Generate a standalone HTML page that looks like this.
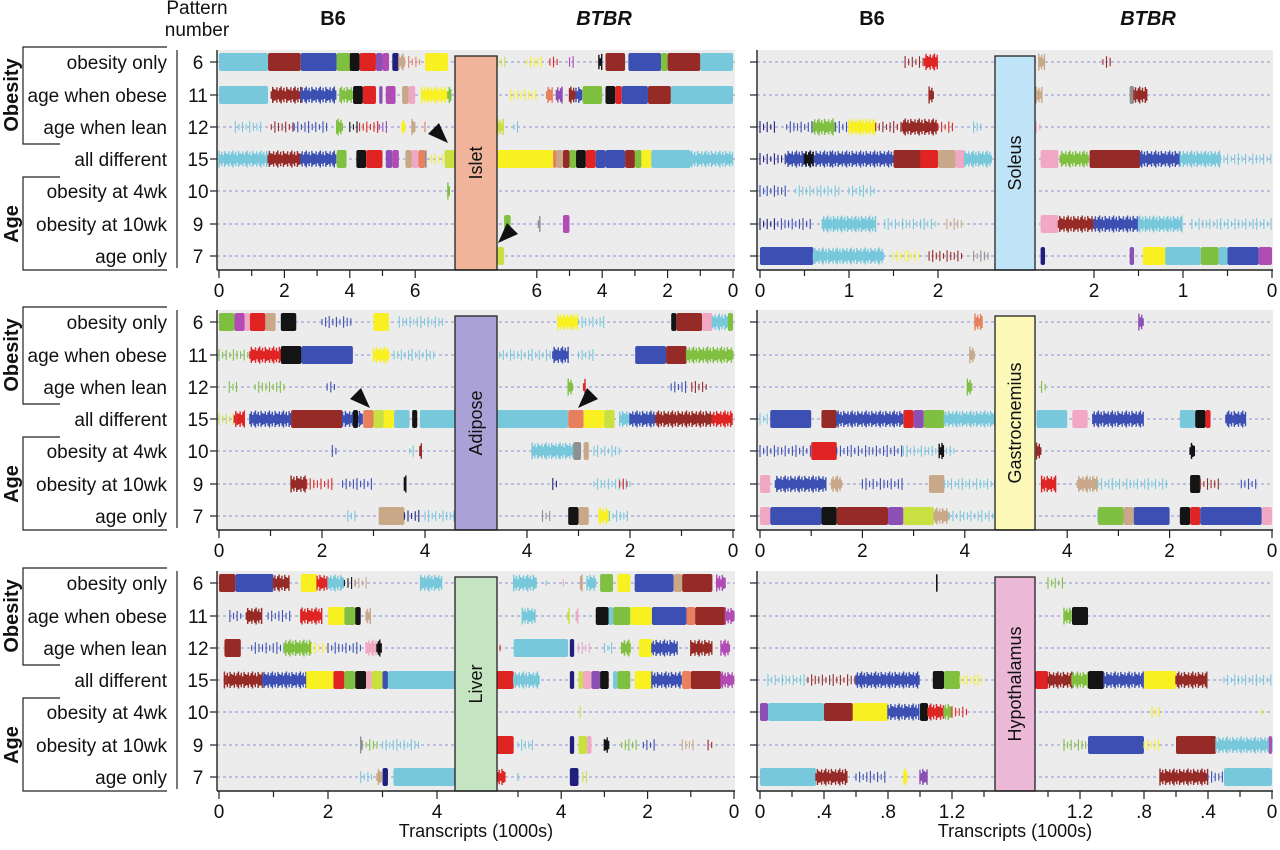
<!DOCTYPE html>
<html><head><meta charset="utf-8"><style>
body{margin:0;background:#fff;width:1280px;height:850px;overflow:hidden}
svg{display:block;font-family:"Liberation Sans",sans-serif}
</style></head><body>
<svg id="fig" width="1280" height="850" viewBox="0 0 1280 850" xmlns="http://www.w3.org/2000/svg"></svg>
<script>
// ---------- DATA (values in 1000s of transcripts) ----------
const rowPatterns = ["6","11","12","15","10","9","7"];
const rowLabels = ["obesity only","age when obese","age when lean","all different","obesity at 4wk","obesity at 10wk","age only"];
const tissues = ["Islet","Soleus","Adipose","Gastrocnemius","Liver","Hypothalamus"];
const tissueColors = ["#f0b49a","#bfe4f8","#aaa2d6","#fbf8b8","#c4e4c2","#ecb8d8"];
const tickLabelsIslet = [0,2,4,6];
const tickLabelsSoleus = [0,1,2];
const tickLabelsAdipose = [0,2,4];
const tickLabelsGastro = [0,2,4];
const tickLabelsLiverB6 = [0,2,4];
const tickLabelsLiverBTBR = [0,2,4];
const tickLabelsHypo = [0,0.4,0.8,1.2];
// segments: "start-end:color:type" ; type d=dense, m=medium, s=sparse
const isletB6 = [
"0-1.5:c:d,1.5-2.5:r:d,2.5-3.6:b:d,3.6-4.1:g:d,4.0-4.3:k:d,4.3-4.8:R:d,4.8-5.0:p:d,5.0-5.2:m:d,5.3-5.5:n:d,5.5-5.7:t:m,5.8-6.2:o:s,6.3-7.0:y:d",
"0-1.5:c:d,1.6-2.5:r:m,2.5-3.6:b:m,3.7-4.1:g:m,4.1-4.4:k:d,4.4-4.8:R:d,4.9-5.0:p:d,5.1-5.4:m:d,5.6-5.8:t:d,5.8-6.0:P:d,6.2-7.0:y:m,7.0-7.1:g:m",
"0.5-1.3:c:s,1.6-2.3:r:s,2.3-3.4:b:s,3.6-3.8:g:m,4.0-4.3:k:s,4.3-4.9:R:s,4.9-5.2:p:s,5.6-5.7:y:m,5.9-6.0:t:m,6.3-6.4:o:s",
"0-1.5:c:m,1.5-2.5:r:m,2.5-3.6:b:m,3.6-3.9:g:d,4.2-4.5:k:d,4.5-5.0:R:d,5.1-5.3:p:d,5.3-5.5:m:d,5.7-5.9:t:d,5.9-6.1:P:d,6.1-6.3:o:d,6.3-6.35:G:d,6.5-6.9:y:s,6.9-7.2:l:d",
"7.0-7.06:g:m","",""];
const isletBTBR = [
"6.9-7.2:l:s,5.8-6.3:y:s,5.3-5.6:R:s,4.8-5.0:m:s,4.0-4.1:k:m,3.3-3.9:r:d,2.2-3.2:b:d,2.0-2.2:g:d,1.0-2.0:r:d,0-1.0:c:d",
"6.0-6.8:y:s,5.5-5.7:o:m,5.2-5.4:p:m,4.8-5.0:r:m,4.6-4.8:b:m,4.0-4.6:g:d,3.6-3.9:k:d,3.4-3.6:R:d,2.6-3.4:b:d,1.9-2.6:r:d,0-1.9:c:d",
"7.0-7.2:l:m,6.5-6.7:c:s","5.5-7.2:y:d,5.4-5.5:o:d,5.2-5.4:t:d,5.0-5.2:r:d,4.8-5.0:g:d,4.5-4.8:k:d,4.2-4.5:R:d,3.9-4.2:b:d,3.3-3.9:b:d,3.0-3.3:r:d,2.8-3.0:g:d,2.5-2.8:y:d,1.3-2.5:c:d,0-1.3:c:m",
"","6.8-7.0:g:d,5.9-5.95:G:m,5.0-5.2:m:d","7.0-7.2:l:d"];
const soleusB6 = [
"1.63-1.85:r:s,1.85-2.0:R:m","1.9-1.95:r:m",
"0-0.2:n:s,0.3-0.6:b:s,0.6-0.85:g:m,0.85-1.0:b:s,1.0-1.3:y:m,1.3-1.6:r:s,1.6-2.0:r:m,2.0-2.2:R:s,2.4-2.5:c:s",
"0-0.3:n:s,0.3-0.8:b:m,0.5-0.6:k:m,0.8-1.5:b:m,1.5-2.0:r:d,1.8-2.0:R:d,2.0-2.2:t:d,2.2-2.3:P:d,2.3-2.6:c:m",
"0-0.3:b:s,0.4-0.9:c:s,1.0-1.3:c:s",
"0-0.2:n:s,0.2-0.6:b:s,0.7-1.3:c:m,1.4-2.0:c:s,2.1-2.3:t:s",
"0-0.6:b:d,0.6-1.4:c:m,1.5-1.8:y:s,1.9-2.3:r:s,2.4-2.6:G:s"];
const soleusBTBR = [
"2.55-2.62:t:m,1.8-1.9:r:s","2.58-2.65:t:m,1.55-1.6:G:d,1.4-1.55:r:m","2.6-2.65:P:s",
"2.4-2.6:P:d,2.05-2.38:g:m,1.48-2.05:r:d,1.03-1.48:b:m,0.58-1.03:c:m,0-0.58:c:s",
"","2.4-2.6:P:d,2.0-2.4:r:m,1.5-2.0:b:m,1.0-1.5:c:m,0-0.9:c:s",
"2.55-2.6:n:d,1.55-1.6:p:d,1.2-1.45:y:d,0.8-1.2:c:d,0.6-0.8:g:d,0.5-0.6:c:d,0.15-0.5:b:d,0-0.15:m:d"];
const adiposeB6 = [
"0-0.3:g:d,0.3-0.5:m:d,0.5-0.6:P:d,0.6-0.9:R:d,0.9-1.1:t:d,1.2-1.5:k:d,2.0-2.6:b:s,3.0-3.3:y:d,3.5-4.4:c:s",
"0-0.6:g:s,0.6-1.2:R:m,1.2-1.6:k:d,1.6-2.6:b:d,3.0-3.3:y:m,3.4-4.2:c:s",
"0.2-0.4:g:s,0.7-1.3:g:s,2.1-2.3:b:s",
"0-0.3:l:s,0.3-0.5:R:m,0.6-1.4:b:m,1.4-2.4:r:d,2.4-2.8:b:m,2.6-2.7:k:d,2.8-3.0:o:d,3.0-3.2:l:d,3.2-3.4:y:d,3.4-3.7:c:d,3.75-3.85:k:d,3.9-4.6:c:d",
"2.2-2.3:b:s,3.7-3.8:c:s,3.9-3.95:r:m",
"1.4-1.7:r:m,1.7-2.2:R:s,2.4-3.0:b:s,3.6-3.65:k:m",
"2.5-2.7:c:s,3.1-3.6:t:d,3.6-3.9:n:s,4.0-4.6:c:s"];
const adiposeBTBR = [
"3.0-3.4:y:m,2.5-3.0:c:s,1.1-1.2:k:d,0.6-1.1:r:d,0.4-0.6:P:d,0-0.4:c:m,0-0.1:g:d",
"3.5-4.6:c:s,3.2-3.5:b:m,2.7-3.0:c:s,1.3-1.9:b:d,0.9-1.3:r:d,0-0.9:g:m",
"3.1-3.2:g:m,2.85-2.9:R:m,0.9-1.2:b:s,0.5-0.8:r:s",
"3.2-4.6:c:d,2.9-3.2:o:d,2.5-2.9:y:d,2.3-2.5:l:d,2.0-2.2:c:m,1.5-2.0:b:m,0.4-1.5:r:m,0-0.4:R:m",
"3.0-3.9:c:m,2.95-3.1:G:d,2.8-2.9:t:d,2.2-2.7:c:s",
"3.4-3.5:n:s,2.0-2.7:c:s,2.0-2.2:R:s",
"3.5-3.7:G:s,3.0-3.2:k:d,2.8-3.0:t:d,2.4-2.6:y:m,2.0-2.4:c:s"];
const gastroB6 = [
"4.2-4.35:o:m","4.1-4.2:t:m","4.05-4.15:g:m",
"0-0.2:c:s,0.2-1.0:b:d,1.2-1.5:r:d,1.5-2.8:b:m,2.8-3.0:R:d,3.0-3.2:p:d,3.2-3.6:g:d,3.6-4.6:c:m",
"0-1.0:b:s,1.0-1.5:R:d,1.5-2.8:b:s,2.8-3.8:c:s,3.5-3.6:k:m",
"0-0.2:P:d,0.3-1.3:b:m,1.4-1.6:t:m,2.0-2.8:b:s,3.3-3.6:t:d,3.6-4.6:c:s",
"0-0.2:P:d,0.2-1.2:b:d,1.2-1.5:k:d,1.5-2.5:r:d,2.5-2.8:p:d,2.8-3.4:l:d,3.4-3.7:t:m,3.7-4.6:c:s"];
const gastroBTBR = [
"2.5-2.6:p:m","","4.4-4.5:g:s",
"4.0-4.6:c:d,3.6-3.9:P:d,2.5-3.5:b:m,1.5-1.8:c:d,1.3-1.5:k:d,1.2-1.3:R:d,0.5-0.9:b:m",
"4.5-4.6:r:m,1.5-1.6:k:m",
"4.2-4.5:R:m,3.4-3.8:t:m,2.0-3.4:c:s,1.4-1.6:k:d,1.0-1.4:r:s,0.3-0.6:b:s",
"3.0-3.4:c:s,2.9-3.4:g:d,2.7-2.9:t:d,2.0-2.7:b:d,1.6-1.8:k:d,1.4-1.6:R:d,0.2-1.4:b:d,0-0.2:P:d"];
const liverB6 = [
"0-0.3:r:d,0.3-1.0:b:d,1.0-1.3:r:m,1.5-1.8:y:d,1.8-2.0:R:m,2.0-2.3:c:m,2.3-2.5:k:s,2.5-2.7:t:s,3.7-4.1:c:m",
"0.2-0.4:b:s,0.5-0.8:r:m,0.9-1.3:b:s,1.5-1.9:R:m,2.0-2.3:y:d,2.3-2.5:g:d,2.5-2.6:k:d,2.7-2.8:t:m",
"0.1-0.4:r:d,0.6-1.2:b:s,1.2-1.7:g:m,1.7-2.0:y:s,2.0-2.6:b:s,2.7-2.9:P:m,2.9-3.0:k:m",
"0.1-0.8:r:m,0.8-1.6:b:m,1.6-2.1:y:d,2.1-2.3:R:d,2.3-2.5:g:d,2.5-2.7:k:d,2.7-2.8:P:d,2.8-3.0:l:d,3.0-3.1:b:d,3.1-4.37:c:d",
"","2.6-2.65:G:m,2.7-2.9:g:s,3.0-3.7:c:s",
"2.6-2.8:c:s,2.9-3.0:t:m,3.0-3.1:n:d,3.2-4.37:c:d"];
const liverBTBR = [
"4.55-5.1:c:m,4.3-4.35:c:s,3.9-3.95:P:s,3.5-3.55:t:m,3.2-3.4:c:m,2.8-3.1:g:d,2.4-2.7:y:d,1.4-2.3:b:d,1.2-1.4:t:d,0.5-1.2:r:d,0.2-0.4:m:m",
"4.6-4.9:c:m,3.8-3.85:l:m,3.6-3.65:P:m,2.9-3.2:k:d,2.8-2.9:c:d,2.4-2.8:g:d,1.9-2.4:y:d,1.1-1.9:b:d,0.9-1.1:o:d,0.2-0.9:r:d,0-0.2:m:m",
"5.4-5.5:R:s,3.84-5.1:c:d,3.7-3.8:n:d,3.3-3.6:P:s,2.8-3.0:c:s,2.4-2.6:g:m,1.9-2.2:y:d,1.3-1.9:b:m,0.5-1.0:r:m,0.1-0.3:m:m",
"5.1-5.5:R:d,4.5-5.1:c:m,3.7-3.8:n:d,3.5-3.6:l:d,3.3-3.5:P:d,3.1-3.3:p:d,2.9-3.1:k:d,2.7-2.8:c:d,2.4-2.7:g:d,1.9-2.3:y:d,1.2-1.9:b:m,1.0-1.2:o:d,0.3-1.0:r:d,0-0.3:m:m",
"3.52-3.56:l:s",
"5.1-5.5:R:d,4.6-5.0:c:s,3.7-3.8:n:d,3.4-3.6:l:d,3.3-3.4:P:d,2.9-3.0:k:m,2.2-2.6:g:s,1.8-2.1:b:s,0.9-1.2:t:s,0.5-0.6:r:s",
"5.3-5.5:R:m,4.98-5.0:c:m,3.6-3.8:n:d,3.4-3.5:l:s"];
const hypoB6 = [
"1.1-1.11:k:d","","",
"0.05-0.3:c:s,0.3-0.6:r:s,0.6-1.0:b:m,1.08-1.15:k:d,1.15-1.25:g:d,1.25-1.4:y:s",
"0-0.05:p:d,0.05-0.4:c:d,0.4-0.58:r:d,0.58-0.8:y:d,0.8-1.0:b:m,1.0-1.05:k:d,1.05-1.15:R:m,1.15-1.2:g:m,1.2-1.3:R:s",
"",
"0-0.35:c:d,0.35-0.55:r:m,0.6-0.8:b:s,0.9-0.92:y:m,1.0-1.05:p:m"];
const hypoBTBR = [
"1.3-1.4:g:s","1.25-1.3:g:m,1.15-1.25:k:d","",
"1.4-1.48:R:d,1.25-1.4:r:m,1.15-1.25:g:m,1.05-1.15:k:d,0.8-1.05:b:m,0.6-0.8:y:d,0.4-0.6:r:m,0-0.3:c:s",
"0.7-0.75:y:s,0.04-0.06:y:s",
"1.15-1.3:g:s,0.8-1.15:b:d,0.7-0.8:y:s,0.35-0.6:r:d,0-0.35:c:m,0-0.02:m:d",
"0.4-0.7:r:m,0.3-0.4:b:s,0-0.3:c:d"];

// ---------- RENDER ----------
const COL={c:"#78c8dc",r:"#962a26",b:"#3c50b4",g:"#80c040",k:"#141414",R:"#e02424",p:"#8c50b4",m:"#b04cb4",t:"#c8a888",P:"#f0a8c4",y:"#f8f020",n:"#20207c",o:"#e8805e",G:"#909090",l:"#c8e040"};
const svg=document.getElementById('fig');
const NS="http://www.w3.org/2000/svg";
function el(tag,attrs,parent){const e=document.createElementNS(NS,tag);for(const k in attrs)e.setAttribute(k,attrs[k]);(parent||svg).appendChild(e);return e;}
function txt(x,y,s,attrs,parent){const t=el('text',Object.assign({x:x,y:y},attrs),parent);t.textContent=s;return t;}
const PAT=[1,0.55,0.85,0.45,0.95,0.7,0.6,0.9,0.5,0.8];
const ROWDY=[0,33,65,97,129,162,194];
const OFFS=[0,260,521];

function drawSegs(g,rows,scale,y0){
  rows.forEach((row,ri)=>{
    if(!row)return;
    const cy=y0+ROWDY[ri];
    row.split(',').forEach((seg,si)=>{
      const [rng,ck,ty]=seg.split(':');
      const [a,b]=rng.split('-').map(Number);
      let x1=scale(a),x2=scale(b);if(x1>x2){const t=x1;x1=x2;x2=t;}
      const col=COL[ck];
      if(ty==='d'){
        const r=el('rect',{x:x1,y:cy-9,width:Math.max(1.5,x2-x1),height:18,rx:2,fill:col},g);
        
        
      } else {
        const step=ty==='m'?1.4:3.6, H=ty==='m'?17:12;
        let d='';let i=si*3;
        for(let x=x1;x<=x2+0.01;x+=step){const h=H*PAT[i%PAT.length];d+=`M${x.toFixed(1)} ${(cy-h/2).toFixed(1)}v${h.toFixed(1)}`;i++;}
        const p=el('path',{d:d,stroke:col,'stroke-width':ty==='m'?1.4:1.1,fill:'none'},g);
        
        
      }
    });
  });
}

function panel(px0,px1,y0,boxX0,boxX1,tIdx,leftRows,rightRows,scaleL,scaleR,ticksL,ticksR,minorL,minorR,fmt,name){
  const g=el('g',{});
  
  
  const top=y0-12,bot=y0+208;
  el('rect',{x:px0,y:top,width:px1-px0,height:bot-top,fill:'#ececed'},g);
  ROWDY.forEach(dy=>{
    el('line',{x1:px0,x2:px1,y1:y0+dy,y2:y0+dy,stroke:'#7070c8','stroke-width':0.8,'stroke-dasharray':'3,3'},g);
    el('line',{x1:px0-7,x2:px0,y1:y0+dy,y2:y0+dy,stroke:'#222','stroke-width':1.2},g);
  });
  drawSegs(g,leftRows,scaleL,y0);
  drawSegs(g,rightRows,scaleR,y0);
  const box=el('rect',{x:boxX0,y:top+6,width:boxX1-boxX0,height:bot-top-6,fill:tissueColors[tIdx],stroke:'#222','stroke-width':1.3},g);
  
  
  const cx=(boxX0+boxX1)/2,cyb=(top+6+bot)/2;
  const tl=txt(cx,cyb,tissues[tIdx],{transform:`rotate(-90 ${cx} ${cyb})`,'text-anchor':'middle','dominant-baseline':'central','font-size':18,fill:'#111'},g);
  
  
  el('line',{x1:px0,x2:px0,y1:top,y2:bot,stroke:'#222','stroke-width':1.4},g);
  el('line',{x1:px0,x2:px1,y1:bot,y2:bot,stroke:'#222','stroke-width':1.4},g);
  const drawT=(vals,sc,major)=>vals.forEach(v=>{
    const x=sc(v);
    el('line',{x1:x,x2:x,y1:bot,y2:bot+(major?8:6),stroke:'#222','stroke-width':1.2},g);
    if(major){const t=txt(x,bot+27,fmt(v),{'text-anchor':'middle','font-size':19,fill:'#111'},g);
      
      }
  });
  drawT(ticksL,scaleL,true);drawT(minorL,scaleL,false);
  drawT(ticksR,scaleR,true);drawT(minorR,scaleR,false);
}
const fmtI=v=>String(v);
const fmtH=v=>v===0?"0":(v<1?String(v).replace(/^0/,''):String(v));
panel(217,735,62,455,497,0,isletB6,isletBTBR,v=>219+v*32.7,v=>733-v*32.7,tickLabelsIslet,tickLabelsIslet,[1,3,5],[1,3,5],fmtI,'islet');
panel(757,1273,62,995,1035,1,soleusB6,soleusBTBR,v=>760+v*89,v=>1272-v*89,tickLabelsSoleus,tickLabelsSoleus,[0.5,1.5],[0.5,1.5],fmtI,'soleus');
panel(217,735,322,455,497,2,adiposeB6,adiposeBTBR,v=>219+v*51.5,v=>733-v*51.5,tickLabelsAdipose,tickLabelsAdipose,[1,3],[1,3],fmtI,'adipose');
panel(757,1273,322,995,1035,3,gastroB6,gastroBTBR,v=>760+v*51.2,v=>1272-v*51.2,tickLabelsGastro,tickLabelsGastro,[1,3],[1,3],fmtI,'gastrocnemius');
panel(217,735,583,455,497,4,liverB6,liverBTBR,v=>219+v*54.5,v=>734-v*43.2,tickLabelsLiverB6,tickLabelsLiverBTBR,[1,3],[1,3,5],fmtI,'liver');
panel(757,1273,583,995,1035,5,hypoB6,hypoBTBR,v=>760+v*160,v=>1272-v*160,tickLabelsHypo,tickLabelsHypo,[0.2,0.6,1.0,1.4],[0.2,0.6,1.0,1.4],fmtH,'hypothalamus');

OFFS.forEach((off,pi)=>{
  const g=el('g',{});
  
  
  ROWDY.forEach((dy,i)=>{
    const y=62+off+dy;
    const a=txt(167,y+7,rowLabels[i],{'text-anchor':'end','font-size':19,fill:'#111'},g);
    
    
    const b=txt(198,y+7,rowPatterns[i],{'text-anchor':'middle','font-size':19,fill:'#111'},g);
    
    
  });
  const t0=62+off;
  el('line',{x1:177,x2:177,y1:t0-12,y2:t0+206,stroke:'#222','stroke-width':1.2},g);
  el('path',{d:`M167 ${t0-15}H23V${t0+82}H60`,stroke:'#222','stroke-width':1.2,fill:'none'},g);
  el('path',{d:`M60 ${t0+115}H23V${t0+208}H167`,stroke:'#222','stroke-width':1.2,fill:'none'},g);
  const oy=t0+33;
  const ob=txt(12,oy,"Obesity",{transform:`rotate(-90 12 ${oy})`,'text-anchor':'middle','dominant-baseline':'central','font-size':20,'font-weight':'bold',fill:'#111'},g);
  
  
  const ay=t0+162;
  const ag=txt(12,ay,"Age",{transform:`rotate(-90 12 ${ay})`,'text-anchor':'middle','dominant-baseline':'central','font-size':20,'font-weight':'bold',fill:'#111'},g);
  
  
});
[["Pattern",197,14],["number",197,36]].forEach(h=>{const t=txt(h[1],h[2],h[0],{'text-anchor':'middle','font-size':19,fill:'#111'});});
[["B6",333,false],["BTBR",604,true],["B6",872,false],["BTBR",1148,true]].forEach(h=>{
  const t=txt(h[1],25,h[0],{'text-anchor':'middle','font-size':20,'font-weight':'bold','font-style':h[2]?'italic':'normal',fill:'#111'});
  
  
});
[[476,837],[1015,837]].forEach(p=>{const t=txt(p[0],p[1],"Transcripts (1000s)",{'text-anchor':'middle','font-size':18,fill:'#111'});});
[[448,143,-1],[498,243,1],[370,408,-1],[578,408,1]].forEach(a=>{
  const [x,y,dir]=a;
  const pts=dir<0?`${x},${y} ${x-20},${y-9} ${x-9},${y-20}`:`${x},${y} ${x+20},${y-9} ${x+9},${y-20}`;
  const p=el('polygon',{points:pts,fill:'#111'});
  
  
});
</script>
</body></html>
